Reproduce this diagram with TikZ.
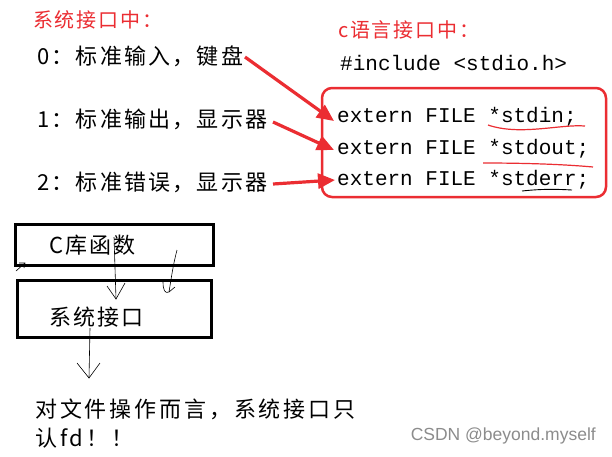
\documentclass[tikz,border=0pt]{standalone}
\usepackage{fontspec}
\setmainfont{Liberation Serif}
\newfontfamily\cjk[LetterSpace=10]{Noto Sans CJK SC}
\newfontfamily\cjkb[LetterSpace=13]{Noto Sans CJK SC}
\newfontfamily\cjkt[LetterSpace=9]{Noto Sans CJK SC}
\newfontfamily\code{Liberation Mono}
\newfontfamily\wm{Liberation Sans}
\usetikzlibrary{arrows.meta}
\definecolor{myred}{RGB}{235,45,50}
\tikzset{
  redtitle/.style={anchor=west,inner sep=0pt,text=myred,font=\cjkt\fontsize{20}{24}\selectfont},
  cjktext/.style={anchor=west,inner sep=0pt,font=\cjk\fontsize{22}{26}\selectfont},
  cjkbottom/.style={anchor=west,inner sep=0pt,font=\cjkb\fontsize{22}{26}\selectfont},
  codetext/.style={anchor=west,inner sep=0pt,font=\code\fontsize{21}{25}\selectfont},
  redarrow/.style={draw=myred,line width=3.2pt,-{Triangle[length=17pt,width=15pt]}},
  blackbox/.style={draw=black,line width=3pt},
  thinline/.style={draw=black,line width=0.6pt},
  redwave/.style={draw=myred,line width=1.2pt}
}
\begin{document}
\begin{tikzpicture}[x=1pt,y=-1pt]
\useasboundingbox[fill=white] (0,0) rectangle (612,456);
% titles
\node[redtitle] (t1) at (33,20) {系统接口中：};
\node[redtitle] (t2) at (338,30) {c语言接口中：};
% left list
\node[cjktext] (l0) at (37,56) {0：标准输入，键盘};
\node[cjktext] (l1) at (37,119) {1：标准输出，显示器};
\node[cjktext] (l2) at (37,182) {2：标准错误，显示器};
% code
\node[codetext] (inc) at (340,63) {\#include <stdio.h>};
\node[codetext] (e0) at (337,117) {extern FILE *stdin;};
\node[codetext] (e1) at (337,149) {extern FILE *stdout;};
\node[codetext] (e2) at (337,180) {extern FILE *stderr;};
% red rounded frame
\draw[myred,line width=2.5pt,rounded corners=10pt] (322,88) rectangle (606,197);
% red underlines
\draw[redwave] (488,125) .. controls (520,136) and (560,124) .. (585,126);
\draw[redwave] (483,163) .. controls (520,163) and (560,164) .. (593,167);
\draw[black,line width=0.9pt] (522,191) .. controls (540,189) and (555,189) .. (572,190);
% red arrows
\coordinate (a0s) at (245,57);
\coordinate (a1s) at (273,122);
\coordinate (a2s) at (273,184);
\draw[redarrow] (a0s) -- ([xshift=-3pt,yshift=-4pt]e0.west);
\draw[redarrow] (a1s) -- ([xshift=-3pt,yshift=-1pt]e1.west);
\draw[redarrow] (a2s) -- ([xshift=-2pt]e2.west);
% boxes
\draw[blackbox] (15,224) rectangle (213,265);
\draw[blackbox] (17,280) rectangle (211,337);
\node[cjktext] (clib) at (49,245) {C库函数};
\node[cjktext] (sys) at (49,317) {系统接口};
% hand drawn arrows
\coordinate (h1a) at (114,237);
\coordinate (h1b) at (116,299);
\draw[thinline] (h1a) -- (h1b);
\draw[thinline] (107,286) -- (h1b) -- (125,283);
\coordinate (h2a) at (177,250);
\coordinate (h2b) at (169,292);
\draw[thinline] (h2a) .. controls (173,265) and (171,280) .. (h2b);
\draw[thinline] (163,282) .. controls (163,290) and (165,294) .. (h2b) -- (175,287);
\coordinate (h3a) at (16,271);
\coordinate (h3b) at (25,263);
\draw[thinline] (h3a) -- (h3b);
\draw[thinline] (19,263) -- (h3b) -- (24,268);
\coordinate (h4a) at (90,328);
\coordinate (h4b) at (89,378);
\draw[thinline] (h4a) -- (h4b);
\draw[thinline] (77,363) -- (h4b) -- (100,363);
% bottom text
\node[cjkbottom] (b1) at (35,409) {对文件操作而言，系统接口只};
\node[cjkbottom] (b2) at (35,438) {认fd！！};
% watermark
\node[anchor=east,inner sep=0pt,text=black!45,font=\wm\fontsize{17.5}{20}\selectfont] (wm) at (596,436) {CSDN @beyond.myself};
\end{tikzpicture}
\end{document}
